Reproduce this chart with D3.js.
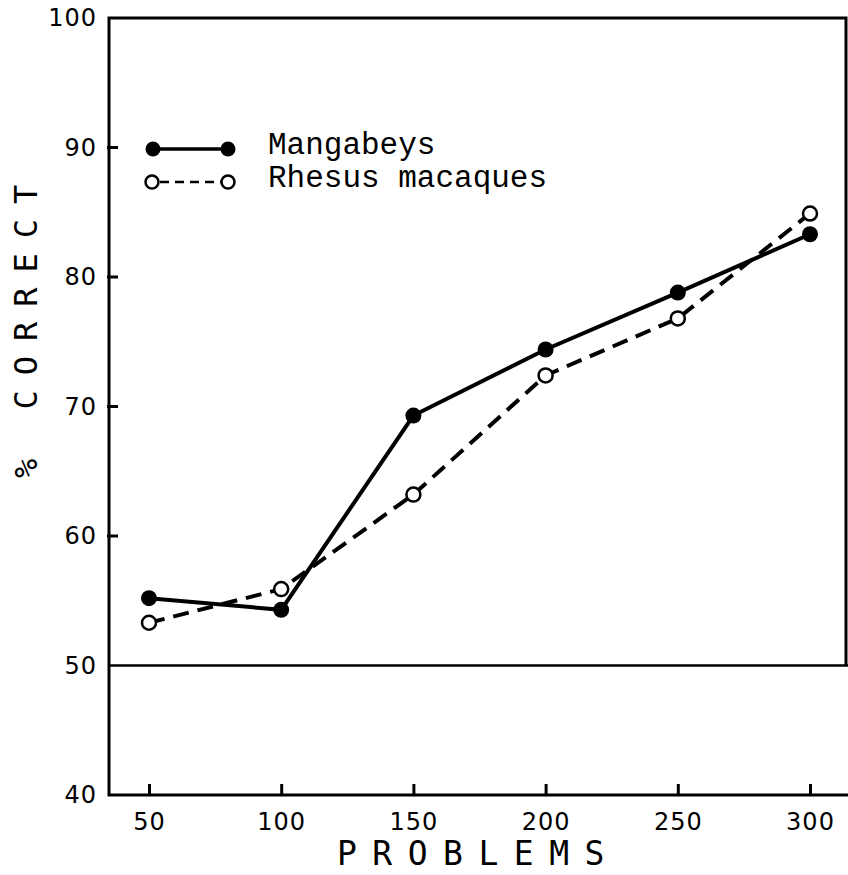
<html lang="en">
  <head>
    <meta charset="UTF-8" />
    <title>Learning curves - % correct by problems</title>
    <script src="https://d3js.org/d3.v7.min.js"></script>
  </head>
  <style>
    body {
      margin: 0;
      background: #fff;
    }

    svg {
      display: block;
    }

    .tick text {
      font-family: "DejaVu Sans", sans-serif;
      font-size: 24px;
      letter-spacing: 1px;
      fill: #000;
    }

    .tick line {
      stroke: #000;
      stroke-width: 3px;
    }

    .frame {
      stroke: #000;
      stroke-width: 3px;
      fill: none;
    }

    .title {
      font-family: "DejaVu Sans Mono", monospace;
      font-size: 33px;
      fill: #000;
    }

    .legend text {
      font-family: "Liberation Mono", "Courier New", monospace;
      font-size: 31px;
      fill: #000;
    }
  </style>
  <body>
    <svg width="848" height="875"></svg>
    <script>
      var problems = [50, 100, 150, 200, 250, 300];
      var mangabeys = [55.2, 54.3, 69.3, 74.4, 78.8, 83.3];
      var rhesus = [53.3, 55.9, 63.2, 72.4, 76.8, 84.9];
      var yTicks = [40, 50, 60, 70, 80, 90, 100];
      var yInnerTicks = [60, 70, 80, 90];

      var svg = d3.select("svg");

      var plotLeft = 109,
        plotRight = 846,
        plotTop = 18,
        plotBottom = 795;

      var x = d3.scaleLinear().domain([50, 300]).range([149, 810]);
      var y = d3.scaleLinear().domain([40, 100]).range([plotBottom, plotTop]);

      // frame: left axis, top, right side (down to 50), bottom axis, 50 line
      svg.append("path")
        .attr("class", "frame")
        .attr("d",
          "M" + plotRight + "," + y(50) + "V" + plotTop + "H" + plotLeft +
          "V" + plotBottom + "H848");
      svg.append("line")
        .attr("class", "frame")
        .style("stroke-width", "2.5px")
        .attr("x1", plotLeft).attr("x2", 848)
        .attr("y1", y(50)).attr("y2", y(50));

      // x axis ticks point inward
      var xAxis = d3.axisBottom(x)
        .tickValues(problems)
        .tickSizeInner(-11)
        .tickSizeOuter(0)
        .tickPadding(18);
      var xg = svg.append("g")
        .attr("transform", "translate(0," + plotBottom + ")")
        .call(xAxis);
      xg.select(".domain").remove();

      // y axis labels, with inward ticks only at 60..90
      var yAxis = d3.axisLeft(y)
        .tickValues(yTicks)
        .tickSize(0)
        .tickPadding(12);
      var yg = svg.append("g")
        .attr("transform", "translate(" + plotLeft + ",0)")
        .call(yAxis);
      yg.select(".domain").remove();
      yg.selectAll(".tick line").remove();
      svg.append("g")
        .selectAll("line")
        .data(yInnerTicks)
        .enter()
        .append("line")
        .attr("class", "frame")
        .attr("x1", plotLeft - 2)
        .attr("x2", plotLeft + 9)
        .attr("y1", function (d) { return y(d); })
        .attr("y2", function (d) { return y(d); });

      // axis titles
      svg.append("text")
        .attr("class", "title")
        .attr("x", 337)
        .attr("y", 865)
        .style("letter-spacing", "15.5px")
        .text("PROBLEMS");

      svg.append("text")
        .attr("class", "title")
        .attr("transform", "translate(37,478) rotate(-90)")
        .style("font-size", "32px")
        .style("letter-spacing", "15px")
        .text("% CORRECT");

      // series
      var line = d3.line()
        .x(function (d, i) { return x(problems[i]); })
        .y(function (d) { return y(d); });

      svg.append("path")
        .datum(rhesus)
        .attr("d", line)
        .attr("fill", "none")
        .attr("stroke", "#000")
        .attr("stroke-width", 4)
        .attr("stroke-dasharray", "16,9");

      svg.append("path")
        .datum(mangabeys)
        .attr("d", line)
        .attr("fill", "none")
        .attr("stroke", "#000")
        .attr("stroke-width", 4);

      svg.append("g")
        .selectAll("circle")
        .data(rhesus)
        .enter()
        .append("circle")
        .attr("cx", function (d, i) { return x(problems[i]); })
        .attr("cy", function (d) { return y(d); })
        .attr("r", 7)
        .attr("fill", "#fff")
        .attr("stroke", "#000")
        .attr("stroke-width", 2.5);

      svg.append("g")
        .selectAll("circle")
        .data(mangabeys)
        .enter()
        .append("circle")
        .attr("cx", function (d, i) { return x(problems[i]); })
        .attr("cy", function (d) { return y(d); })
        .attr("r", 8)
        .attr("fill", "#000");

      // legend
      var legend = svg.append("g").attr("class", "legend");
      var lg1 = legend.append("g").attr("transform", "translate(0,149)");
      lg1.append("line")
        .attr("x1", 153).attr("x2", 228)
        .attr("stroke", "#000").attr("stroke-width", 3.5);
      lg1.selectAll("circle")
        .data([153, 228])
        .enter()
        .append("circle")
        .attr("cx", function (d) { return d; })
        .attr("r", 7.5)
        .attr("fill", "#000");
      lg1.append("text").attr("x", 268).attr("y", 5).text("Mangabeys");

      var lg2 = legend.append("g").attr("transform", "translate(0,182)");
      lg2.append("line")
        .attr("x1", 160).attr("x2", 222)
        .attr("stroke", "#000").attr("stroke-width", 2.5)
        .attr("stroke-dasharray", "9,6");
      lg2.selectAll("circle")
        .data([152, 228])
        .enter()
        .append("circle")
        .attr("cx", function (d) { return d; })
        .attr("r", 6.5)
        .attr("fill", "#fff")
        .attr("stroke", "#000")
        .attr("stroke-width", 2.5);
      lg2.append("text").attr("x", 268).attr("y", 5).text("Rhesus macaques");
    </script>
  </body>
</html>
